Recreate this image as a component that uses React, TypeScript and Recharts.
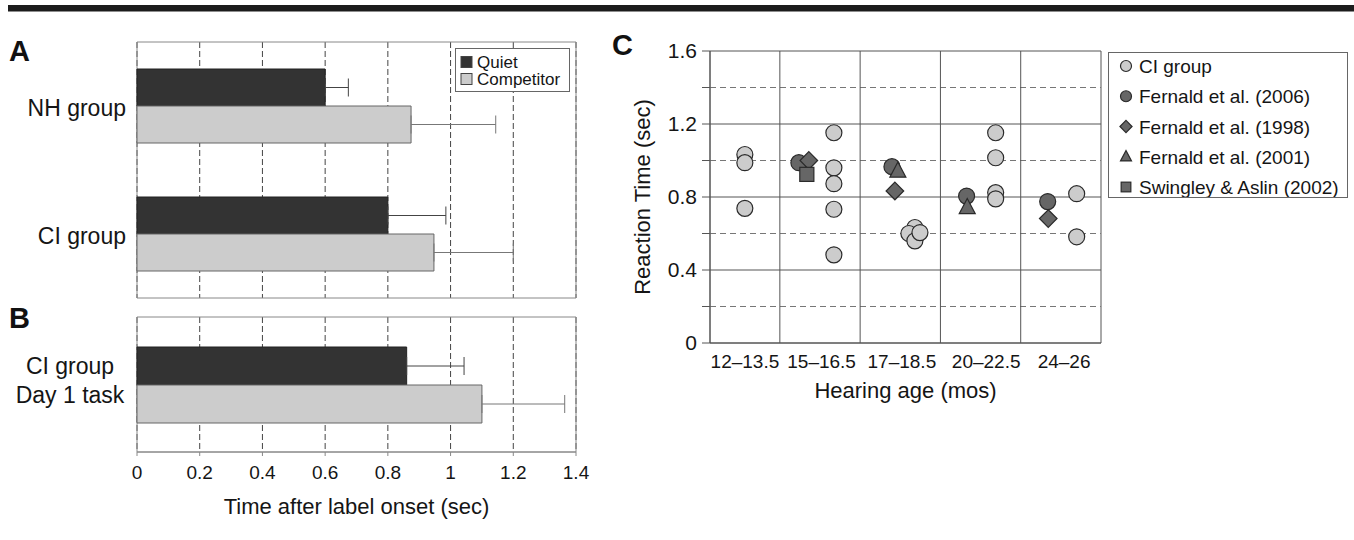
import React from 'react';
import {
  BarChart,
  Bar,
  XAxis,
  YAxis,
  CartesianGrid,
  ErrorBar,
  Legend,
  ReferenceArea,
  ReferenceLine,
  ScatterChart,
  Scatter,
} from 'recharts';

const FONT = '"Liberation Sans", Arial, Helvetica, sans-serif';
const DARK = '#333333';
const LIGHT = '#cccccc';
const MARK_DARK = '#666666';
const TEXT = '#151515';

// ---------- Panel A ----------
const groupsA = ['NH group', 'CI group'];
const quietA = [0.6, 0.8];
const quietErrA = [0.074, 0.185];
const competitorA = [0.874, 0.947];
const competitorErrA = [0.27, 0.253];

// ---------- Panel B ----------
const groupsB = ['CI group Day 1 task'];
const groupsBLines = [['CI group', 'Day 1 task']];
const quietB = [0.86];
const quietErrB = [0.183];
const competitorB = [1.1];
const competitorErrB = [0.264];

const timeTicks = [0, 0.2, 0.4, 0.6, 0.8, 1, 1.2, 1.4];
const seriesAB = ['Quiet', 'Competitor'];

// ---------- Panel C ----------
const ageLabels = ['12\u201313.5', '15\u201316.5', '17\u201318.5', '20\u201322.5', '24\u201326'];
const ageLabelPos = [0.565, 1.52, 2.52, 3.57, 4.54];
const ageEdges = [1, 2, 3, 4];
const ageDomain = [0.13, 5];
const rtTicks = [0, 0.2, 0.4, 0.6, 0.8, 1.0, 1.2, 1.4, 1.6];
const rtTickLabels = ['0', '', '0.4', '', '0.8', '', '1.2', '', '1.6'];
const rtSolid = [0.4, 0.8, 1.2];
const rtDashed = [0.2, 0.6, 1.0, 1.4];

const ciGroup = [
  { x: 0.564, y: 1.033 },
  { x: 0.564, y: 0.988 },
  { x: 0.564, y: 0.738 },
  { x: 1.673, y: 1.152 },
  { x: 1.673, y: 0.96 },
  { x: 1.673, y: 0.873 },
  { x: 1.673, y: 0.733 },
  { x: 1.673, y: 0.483 },
  { x: 2.682, y: 0.633 },
  { x: 2.607, y: 0.6 },
  { x: 2.682, y: 0.56 },
  { x: 2.745, y: 0.605 },
  { x: 3.688, y: 1.152 },
  { x: 3.688, y: 1.015 },
  { x: 3.688, y: 0.824 },
  { x: 3.688, y: 0.79 },
  { x: 4.697, y: 0.818 },
  { x: 4.697, y: 0.582 },
];
const fernald2006 = [
  { x: 1.237, y: 0.988 },
  { x: 2.396, y: 0.966 },
  { x: 3.326, y: 0.805 },
  { x: 4.336, y: 0.775 },
];
const fernald1998 = [
  { x: 1.361, y: 1.0 },
  { x: 2.433, y: 0.833 },
  { x: 4.343, y: 0.682 },
];
const fernald2001 = [
  { x: 2.47, y: 0.942 },
  { x: 3.334, y: 0.742 },
];
const swingley2002 = [{ x: 1.336, y: 0.924 }];

const seriesC = [
  { name: 'CI group', data: ciGroup, symbol: 'circle', fill: LIGHT },
  { name: 'Fernald et al. (2006)', data: fernald2006, symbol: 'circle', fill: MARK_DARK },
  { name: 'Fernald et al. (1998)', data: fernald1998, symbol: 'diamond', fill: MARK_DARK },
  { name: 'Fernald et al. (2001)', data: fernald2001, symbol: 'triangle', fill: MARK_DARK },
  { name: 'Swingley & Aslin (2002)', data: swingley2002, symbol: 'square', fill: MARK_DARK },
];

const dataA = groupsA.map((name, i) => ({
  name,
  quiet: quietA[i],
  quietErr: [0, quietErrA[i]],
  competitor: competitorA[i],
  competitorErr: [0, competitorErrA[i]],
}));

const dataB = groupsB.map((name, i) => ({
  name,
  quiet: quietB[i],
  quietErr: [0, quietErrB[i]],
  competitor: competitorB[i],
  competitorErr: [0, competitorErrB[i]],
}));

function Marker({ symbol, cx, cy, s, fill }: any) {
  const stroke = '#2a2a2a';
  const sw = 1.2;
  if (cx == null || cy == null) return null;
  if (symbol === 'circle') {
    return <circle cx={cx} cy={cy} r={s} fill={fill} stroke={stroke} strokeWidth={sw} />;
  }
  if (symbol === 'diamond') {
    const d = s * 1.1;
    return (
      <polygon
        points={`${cx},${cy - d} ${cx + d},${cy} ${cx},${cy + d} ${cx - d},${cy}`}
        fill={fill}
        stroke={stroke}
        strokeWidth={sw}
      />
    );
  }
  if (symbol === 'triangle') {
    const w = s * 2;
    const h = s * 1.9;
    return (
      <polygon
        points={`${cx},${cy - h * 0.6} ${cx + w / 2},${cy + h * 0.4} ${cx - w / 2},${cy + h * 0.4}`}
        fill={fill}
        stroke={stroke}
        strokeWidth={sw}
      />
    );
  }
  const a = s * 0.88;
  return <rect x={cx - a} y={cy - a} width={a * 2} height={a * 2} fill={fill} stroke={stroke} strokeWidth={sw} />;
}

function LegendAB() {
  const fills = [DARK, LIGHT];
  return (
    <div
      style={{
        width: 115,
        height: 44,
        boxSizing: 'border-box',
        border: '1px solid #666',
        background: '#fff',
        fontFamily: FONT,
      }}
    >
      <svg width={113} height={42} style={{ display: 'block' }}>
        {seriesAB.map((name, i) => (
          <g key={name}>
            <rect x={5} y={7.5 + i * 17} width={11} height={11} fill={fills[i]} stroke="#444" strokeWidth={1} />
            <text x={21} y={13 + i * 17 + 6} fontSize={17} fill={TEXT}>
              {name}
            </text>
          </g>
        ))}
      </svg>
    </div>
  );
}

function LegendC() {
  return (
    <div
      style={{
        width: 240,
        height: 146,
        boxSizing: 'border-box',
        border: '1px solid #666',
        background: '#fff',
        fontFamily: FONT,
      }}
    >
      <svg width={238} height={144} style={{ display: 'block' }}>
        {seriesC.map((s, i) => {
          const cy = 13 + i * 30.25;
          return (
            <g key={s.name}>
              <Marker symbol={s.symbol} cx={17} cy={cy} s={5.5} fill={s.fill} />
              <text x={30} y={cy + 7} fontSize={19} fill={TEXT}>
                {s.name}
              </text>
            </g>
          );
        })}
      </svg>
    </div>
  );
}

function TwoLineTick(props: any) {
  const { x, y, index } = props;
  const lines = groupsBLines[index] || [];
  return (
    <text x={x - 56} y={y} textAnchor="middle" fontSize={23} fill={TEXT} fontFamily={FONT}>
      <tspan x={x - 56} dy={-11}>
        {lines[0]}
      </tspan>
      <tspan x={x - 56} dy={29}>
        {lines[1]}
      </tspan>
    </text>
  );
}

function GroupTick(props: any) {
  const { x, y, payload } = props;
  return (
    <text x={x} y={y} dy={10} textAnchor="end" fontSize={23} fill={TEXT} fontFamily={FONT}>
      {payload.value}
    </text>
  );
}

const EmptyTick = () => <g />;

export default function App() {
  return (
    <div
      style={{
        position: 'absolute',
        left: 0,
        top: 0,
        width: 1354,
        height: 540,
        background: '#fff',
        fontFamily: FONT,
        overflow: 'hidden',
      }}
    >
      <svg width={1354} height={540} style={{ position: 'absolute', left: 0, top: 0 }}>
        <rect x={8} y={5} width={1346} height={6.5} fill="#1c1c1c" />
        <text x={9} y={61} fontSize={29} fontWeight="bold" fill="#111" fontFamily={FONT}>
          A
        </text>
        <text x={9} y={328} fontSize={29} fontWeight="bold" fill="#111" fontFamily={FONT}>
          B
        </text>
        <text x={612} y={55} fontSize={29} fontWeight="bold" fill="#111" fontFamily={FONT}>
          C
        </text>
      </svg>

      {/* Panel A */}
      <div style={{ position: 'absolute', left: 0, top: 0 }}>
        <BarChart
          width={600}
          height={300}
          data={dataA}
          layout="vertical"
          margin={{ top: 42, right: 24, bottom: 2, left: 0 }}
          barGap={0}
        >
          <CartesianGrid horizontal={false} stroke="#444" strokeDasharray="6 3" />
          <XAxis
            type="number"
            domain={[0, 1.4]}
            ticks={timeTicks}
            interval={0}
            tick={<EmptyTick />}
            axisLine={false}
            tickLine={false}
            tickSize={0}
            tickMargin={0}
            height={0}
          />
          <YAxis
            type="category"
            dataKey="name"
            width={137}
            axisLine={false}
            tickLine={false}
            tickSize={0}
            tickMargin={11}
            interval={0}
            tick={<GroupTick />}
          />
          <Bar dataKey="quiet" name="Quiet" fill={DARK} stroke="#222" strokeWidth={1} barSize={37} isAnimationActive={false}>
            <ErrorBar dataKey="quietErr" direction="x" width={9} stroke="#444" strokeWidth={1} />
          </Bar>
          <Bar
            dataKey="competitor"
            name="Competitor"
            fill={LIGHT}
            stroke="#666"
            strokeWidth={1}
            barSize={37}
            isAnimationActive={false}
          >
            <ErrorBar dataKey="competitorErr" direction="x" width={9} stroke="#777" strokeWidth={1} />
          </Bar>
          <ReferenceArea x1={0} x2={1.4} fill="none" stroke="#888" strokeWidth={1} ifOverflow="visible" />
          <Legend
            layout="vertical"
            align="center"
            verticalAlign="middle"
            content={() => <LegendAB />}
            wrapperStyle={{ left: 455, top: 48, width: 115, height: 44 }}
          />
        </BarChart>
      </div>

      {/* Panel B */}
      <div style={{ position: 'absolute', left: 0, top: 300 }}>
        <BarChart
          width={600}
          height={240}
          data={dataB}
          layout="vertical"
          margin={{ top: 17, right: 24, bottom: 26, left: 0 }}
          barGap={0}
        >
          <CartesianGrid horizontal={false} stroke="#444" strokeDasharray="6 3" />
          <XAxis
            type="number"
            domain={[0, 1.4]}
            ticks={timeTicks}
            interval={0}
            height={62}
            axisLine={{ stroke: '#888' }}
            tickLine={{ stroke: '#888' }}
            tickSize={4}
            tickMargin={10}
            tick={{ fontSize: 19, fill: TEXT }}
            label={{
              value: 'Time after label onset (sec)',
              position: 'insideBottom',
              offset: 0,
              fontSize: 22,
              fill: TEXT,
              style: { fontSize: 22, fill: TEXT },
            }}
          />
          <YAxis
            type="category"
            dataKey="name"
            width={137}
            axisLine={false}
            tickLine={false}
            tickSize={0}
            tickMargin={11}
            interval={0}
            tick={<TwoLineTick />}
          />
          <Bar dataKey="quiet" name="Quiet" fill={DARK} stroke="#222" strokeWidth={1} barSize={38} isAnimationActive={false}>
            <ErrorBar dataKey="quietErr" direction="x" width={9} stroke="#444" strokeWidth={1} />
          </Bar>
          <Bar
            dataKey="competitor"
            name="Competitor"
            fill={LIGHT}
            stroke="#666"
            strokeWidth={1}
            barSize={38}
            isAnimationActive={false}
          >
            <ErrorBar dataKey="competitorErr" direction="x" width={9} stroke="#777" strokeWidth={1} />
          </Bar>
          <ReferenceArea x1={0} x2={1.4} fill="none" stroke="#888" strokeWidth={1} ifOverflow="visible" />
        </BarChart>
      </div>

      {/* Panel C */}
      <div style={{ position: 'absolute', left: 600, top: 0 }}>
        <ScatterChart width={754} height={420} margin={{ top: 51, right: 253, bottom: 22, left: 0 }}>
          <XAxis
            type="number"
            dataKey="x"
            domain={ageDomain}
            allowDataOverflow
            ticks={ageLabelPos}
            interval={0}
            tickFormatter={(v: any, i: number) => ageLabels[i]}
            height={55}
            axisLine={{ stroke: '#555' }}
            tickLine={false}
            tickSize={0}
            tickMargin={12}
            tick={{ fontSize: 19, fill: TEXT }}
            label={{
              value: 'Hearing age (mos)',
              position: 'insideBottom',
              offset: 0,
              fontSize: 22,
              fill: TEXT,
              style: { fontSize: 22, fill: TEXT },
            }}
          />
          <YAxis
            type="number"
            dataKey="y"
            domain={[0, 1.6]}
            ticks={rtTicks}
            interval={0}
            tickFormatter={(v: any, i: number) => rtTickLabels[i]}
            width={110}
            axisLine={{ stroke: '#555' }}
            tickLine={{ stroke: '#555' }}
            tickSize={8}
            tickMargin={5}
            tick={{ fontSize: 21, fill: TEXT }}
            label={{
              value: 'Reaction Time (sec)',
              angle: -90,
              position: 'insideLeft',
              offset: 42,
              fontSize: 22,
              fill: TEXT,
              style: { textAnchor: 'middle', fontSize: 22, fill: TEXT },
            }}
          />
          {rtDashed.map((v) => (
            <ReferenceLine key={'d' + v} y={v} stroke="#777" strokeDasharray="6 4" strokeWidth={1} />
          ))}
          {rtSolid.map((v) => (
            <ReferenceLine key={'s' + v} y={v} stroke="#555" strokeWidth={1} />
          ))}
          {ageEdges.map((v) => (
            <ReferenceLine key={'e' + v} x={v} stroke="#555" strokeWidth={1} />
          ))}
          <ReferenceArea
            x1={ageDomain[0]}
            x2={ageDomain[1]}
            y1={0}
            y2={1.6}
            fill="none"
            stroke="#555"
            strokeWidth={1}
            ifOverflow="visible"
          />
          {seriesC.map((s) => (
            <Scatter
              key={s.name}
              name={s.name}
              data={s.data}
              fill={s.fill}
              isAnimationActive={false}
              shape={(p: any) => <Marker symbol={s.symbol} cx={p.cx} cy={p.cy} s={8} fill={s.fill} />}
            />
          ))}
          <Legend
            layout="vertical"
            align="center"
            verticalAlign="middle"
            content={() => <LegendC />}
            wrapperStyle={{ left: 508, top: 52, width: 240, height: 146 }}
          />
        </ScatterChart>
      </div>
    </div>
  );
}
